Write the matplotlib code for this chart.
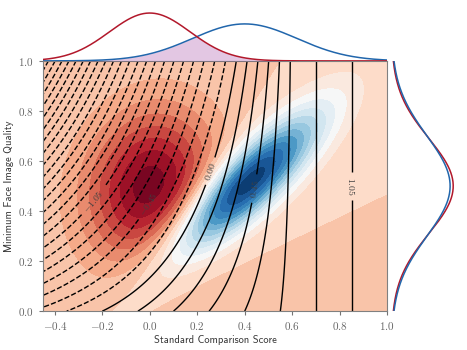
import numpy as np
import matplotlib
matplotlib.use("Agg")
import matplotlib.pyplot as plt
from matplotlib.ticker import FuncFormatter

plt.rcParams['mathtext.fontset'] = 'cm'

# 2d distributions: (mean_x, mean_y, std_x, std_y, rho)
red_params = (0.0, 0.5, 0.19, 0.215, 0.12)
blue_params = (0.4, 0.5, 0.22, 0.20, 0.85)
# marginal curves: (mean, std)
red_top = (0.0, 0.17)
blue_top = (0.4, 0.22)
red_side = (0.5, 0.19)
blue_side = (0.5, 0.20)
red_color = '#b2182b'
blue_color = '#2166ac'

xlim = (-0.45, 1.0)
ylim = (0.0, 1.0)
x_ticks = [-0.4, -0.2, 0.0, 0.2, 0.4, 0.6, 0.8, 1.0]
y_ticks = [0.0, 0.2, 0.4, 0.6, 0.8, 1.0]

# contour field of the adjusted score
score_offset = 0.2
knee_x = 0.61
lin_slope = 2.3
curve_x = 0.25
curve_k = 1.5
line_levels = np.round(np.arange(-26, 9) * 0.15, 2)
label_levels = [-1.05, -0.45, 0.0, 0.45, 1.05]
label_pos = [(-0.275, 0.47), (-0.01, 0.43), (0.266, 0.556), (0.44, 0.49), (0.857, 0.5)]

fill_step = 0.52
fill_levels = np.arange(-8, 14) * fill_step


def gauss2d(X, Y, p):
    mx, my, sx, sy, r = p
    dx = (X - mx) / sx
    dy = (Y - my) / sy
    q = (dx**2 - 2 * r * dx * dy + dy**2) / (1 - r**2)
    return np.exp(-0.5 * q) / (2 * np.pi * sx * sy * np.sqrt(1 - r**2))


def gauss1d(v, m, s):
    return np.exp(-0.5 * ((v - m) / s)**2) / (s * np.sqrt(2 * np.pi))


xs = np.linspace(xlim[0], xlim[1], 500)
ys = np.linspace(ylim[0], ylim[1], 400)
X, Y = np.meshgrid(xs, ys)
Z = gauss2d(X, Y, blue_params) - gauss2d(X, Y, red_params)

h = lin_slope * np.clip(knee_x - X, 0, None) + curve_k * np.clip(curve_x - X, 0, None)**2
F = X + score_offset - Y * h

fig = plt.figure(figsize=(4.67, 3.5), dpi=100)
ax = fig.add_axes([0.092, 0.111, 0.737, 0.715])
ax_top = fig.add_axes([0.092, 0.826, 0.737, 0.16], sharex=ax)
ax_right = fig.add_axes([0.835, 0.111, 0.154, 0.715], sharey=ax)

ax.contourf(X, Y, Z, levels=fill_levels, cmap='RdBu')
is_label = np.array([np.any(np.isclose(lv, label_levels)) for lv in line_levels])
ax.contour(X, Y, F, levels=line_levels[~is_label], colors='k', linewidths=1.0)
cs_lab = ax.contour(X, Y, F, levels=line_levels[is_label], colors='k', linewidths=1.0)
texts = ax.clabel(cs_lab, fmt=lambda v: f'${v:.2f}$', manual=label_pos,
                  fontsize=7, colors='0.25', inline=True)
for t in texts:
    if t.get_text() == '$1.05$':
        t.set_rotation(-90)

ax.set_xlim(*xlim)
ax.set_ylim(*ylim)
ax.set_xticks(x_ticks)
ax.set_yticks(y_ticks)
fmt = FuncFormatter(lambda v, p: f'${v:.1f}$')
ax.xaxis.set_major_formatter(fmt)
ax.yaxis.set_major_formatter(fmt)
ax.tick_params(labelsize=8, colors='0.45', labelcolor='0.4', length=3, width=0.8)
for s in ax.spines.values():
    s.set_color('0.5')
    s.set_linewidth(0.8)
ax.set_xlabel('Standard Comparison Score', family='cmss10', fontsize=7.6, color='0.2', labelpad=2)
ax.set_ylabel('Minimum Face Image Quality', family='cmss10', fontsize=7.6, color='0.2', labelpad=3)

# top marginal
pr = gauss1d(xs, *red_top)
pb = gauss1d(xs, *blue_top)
ax_top.fill_between(xs, 0, np.minimum(pr, pb), color='purple', alpha=0.22, lw=0)
ax_top.plot(xs, pb, color=blue_color, lw=1.1)
ax_top.plot(xs, pr, color=red_color, lw=1.1)
ax_top.set_ylim(0, pr.max() * 1.17)
ax_top.axis('off')

# right marginal
qr = gauss1d(ys, *red_side)
qb = gauss1d(ys, *blue_side)
ax_right.plot(qr, ys, color=red_color, lw=1.1)
ax_right.plot(qb, ys, color=blue_color, lw=1.1)
ax_right.set_xlim(-0.05, qr.max() * 1.14)
ax_right.axis('off')

fig.savefig('out.png', dpi=100)
